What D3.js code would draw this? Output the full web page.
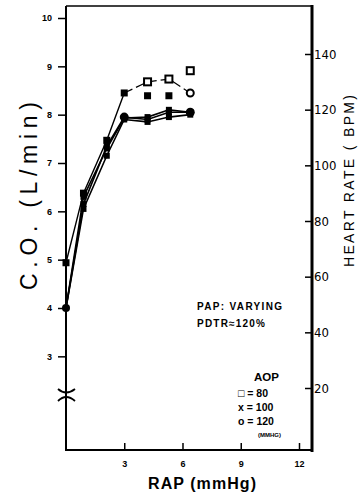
<!DOCTYPE html>
<html>
<head>
<meta charset="utf-8">
<script src="https://cdn.jsdelivr.net/npm/d3@7"></script>
<style>
  body { margin: 0; background: #fff; }
  svg { display: block; }
  .tick text { font-family: "Liberation Sans", Arial, sans-serif; font-weight: bold; fill: #000; }
</style>
</head>
<body>
<svg width="358" height="499"></svg>
<script>
// RAP steps (mmHg)
const rap = [0, 0.9, 2.1, 3, 4.2, 5.3, 6.4];

// cardiac output (L/min) per AOP level
const coAop80 = [4.0, 6.3, 7.3, 7.93, 7.95, 8.1, 8.05];
const coAop100 = [4.0, 6.05, 7.15, 7.9, 7.85, 7.95, 8.0];
const coAop120 = [4.0, 6.15, 7.35, 7.95, 7.9, 8.05, 8.05];

// heart rate (BPM)
const hrRap = [0, 0.9, 2.1, 3];
const hrRise = [65, 90, 109, 126];
const hr80Rap = [4.2, 5.3, 6.4];
const hr80 = [130, 131, 134];
const hr100Rap = [4.2, 5.3];
const hr100 = [125, 125];
const hr120Rap = [6.4];
const hr120 = [126];

const leftTicks = [3, 4, 5, 6, 7, 8, 9, 10];
const rightTicks = [20, 40, 60, 80, 100, 120, 140];
const xTicks = [3, 6, 9, 12];

const svg = d3.select("svg");

const x = d3.scaleLinear().domain([0, 12.67]).range([66, 312]);
const yL = d3.scaleLinear().domain([4, 10]).range([308, 18]);
const yR = d3.scaleLinear().domain([20, 140]).range([388, 54]);

// axes
const left = svg.append("g").attr("transform", "translate(66,0)")
  .call(d3.axisLeft(yL).tickValues(leftTicks).tickFormat(d3.format("d")).tickSize(8).tickPadding(6));
left.selectAll("text").style("font-size", "9px");

const right = svg.append("g").attr("transform", "translate(312,0)")
  .call(d3.axisRight(yR).tickValues(rightTicks).tickFormat(d3.format("d")).tickSize(-7).tickPadding(2));
right.selectAll("text")
  .style("font-family", "'Liberation Sans Narrow', 'DejaVu Sans Condensed', sans-serif")
  .style("font-weight", "normal")
  .style("font-size", "13px");

const bottom = svg.append("g").attr("transform", "translate(0,450)")
  .call(d3.axisBottom(x).tickValues(xTicks).tickSize(-7).tickPadding(11));
bottom.selectAll("text").style("font-size", "9px");

svg.selectAll(".domain").remove();
svg.selectAll(".tick line").attr("stroke", "#000").attr("stroke-width", 1.5);

// frame
const frame = svg.append("g").attr("stroke", "#000").attr("fill", "none");
frame.append("line").attr("x1", 66).attr("x2", 312).attr("y1", 6).attr("y2", 6).attr("stroke-width", 1.5);
frame.append("line").attr("x1", 66).attr("x2", 66).attr("y1", 6).attr("y2", 451).attr("stroke-width", 2);
frame.append("line").attr("x1", 312).attr("x2", 312).attr("y1", 5).attr("y2", 452).attr("stroke-width", 3);
frame.append("line").attr("x1", 65).attr("x2", 313).attr("y1", 450).attr("y2", 450).attr("stroke-width", 2);

// axis break
frame.append("path").attr("d", "M58,389 Q66,396 75,389").attr("stroke-width", 1.8);
frame.append("path").attr("d", "M58,401 Q66,393 75,401").attr("stroke-width", 1.8);

// lines
const lineL = d3.line().x(d => x(d[0])).y(d => yL(d[1]));
const lineR = d3.line().x(d => x(d[0])).y(d => yR(d[1]));

const coSeries = [coAop80, coAop100, coAop120];
coSeries.forEach(s => {
  svg.append("path")
    .attr("d", lineL(rap.map((r, i) => [r, s[i]])))
    .attr("fill", "none").attr("stroke", "#000").attr("stroke-width", 1.6);
});

svg.append("path")
  .attr("d", lineR(hrRap.map((r, i) => [r, hrRise[i]])))
  .attr("fill", "none").attr("stroke", "#000").attr("stroke-width", 1.4);
svg.append("path")
  .attr("d", lineR([[3, 126], ...hr80Rap.slice(0, 2).map((r, i) => [r, hr80[i]]), [hr120Rap[0], hr120[0]]]))
  .attr("fill", "none").attr("stroke", "#000").attr("stroke-width", 1.2)
  .attr("stroke-dasharray", "9,4");

// markers
function filledSquare(cx, cy, s) {
  svg.append("rect").attr("x", cx - s / 2).attr("y", cy - s / 2)
    .attr("width", s).attr("height", s).attr("fill", "#000");
}
function openSquare(cx, cy, s) {
  svg.append("rect").attr("x", cx - s / 2).attr("y", cy - s / 2)
    .attr("width", s).attr("height", s).attr("fill", "#fff")
    .attr("stroke", "#000").attr("stroke-width", 2);
}

coSeries.forEach(s => rap.forEach((r, i) => filledSquare(x(r), yL(s[i]), 6)));
svg.append("circle").attr("cx", x(0)).attr("cy", yL(4)).attr("r", 4).attr("fill", "#000");
svg.append("circle").attr("cx", x(3)).attr("cy", yL(coAop120[3])).attr("r", 4.5).attr("fill", "#000");
svg.append("circle").attr("cx", x(6.4)).attr("cy", yL(coAop120[6])).attr("r", 4.5).attr("fill", "#000");

hrRap.forEach((r, i) => filledSquare(x(r), yR(hrRise[i]), 7));
hr80Rap.forEach((r, i) => openSquare(x(r), yR(hr80[i]), 7));
hr100Rap.forEach((r, i) => filledSquare(x(r), yR(hr100[i]), 7));
hr120Rap.forEach((r, i) => {
  svg.append("circle").attr("cx", x(r)).attr("cy", yR(hr120[i])).attr("r", 3.5)
    .attr("fill", "#fff").attr("stroke", "#000").attr("stroke-width", 2);
});

// titles
const font = "'Liberation Sans', Arial, sans-serif";
svg.append("text").attr("transform", "translate(37,290) rotate(-90)")
  .attr("textLength", 188).attr("lengthAdjust", "spacing")
  .style("font-family", font).style("font-size", "23px")
  .text("C.O. (L/min)");
svg.append("text").attr("transform", "translate(354,267) rotate(-90)")
  .attr("textLength", 172).attr("lengthAdjust", "spacing")
  .style("font-family", font).style("font-size", "14px")
  .text("HEART RATE ( BPM)");
svg.append("text").attr("x", 148).attr("y", 489)
  .attr("textLength", 108).attr("lengthAdjust", "spacing")
  .style("font-family", font).style("font-size", "16px").style("font-weight", "bold")
  .text("RAP (mmHg)");

// annotations
const ann = svg.append("g").style("font-family", font).style("font-weight", "bold").attr("fill", "#000");
ann.append("text").attr("x", 197).attr("y", 310).attr("textLength", 85).style("font-size", "10px").text("PAP: VARYING");
ann.append("text").attr("x", 197).attr("y", 327).attr("textLength", 68).style("font-size", "10px").text("PDTR≈120%");
ann.append("text").attr("x", 254).attr("y", 381).style("font-size", "11.5px").text("AOP");
ann.append("text").attr("x", 238).attr("y", 397).style("font-size", "10.5px").text("\u25A1 = 80");
ann.append("text").attr("x", 238).attr("y", 411).style("font-size", "10.5px").text("x = 100");
ann.append("text").attr("x", 238).attr("y", 425).style("font-size", "10.5px").text("o = 120");
ann.append("text").attr("x", 258).attr("y", 437).style("font-size", "6px").text("(MMHG)");
</script>
</body>
</html>
